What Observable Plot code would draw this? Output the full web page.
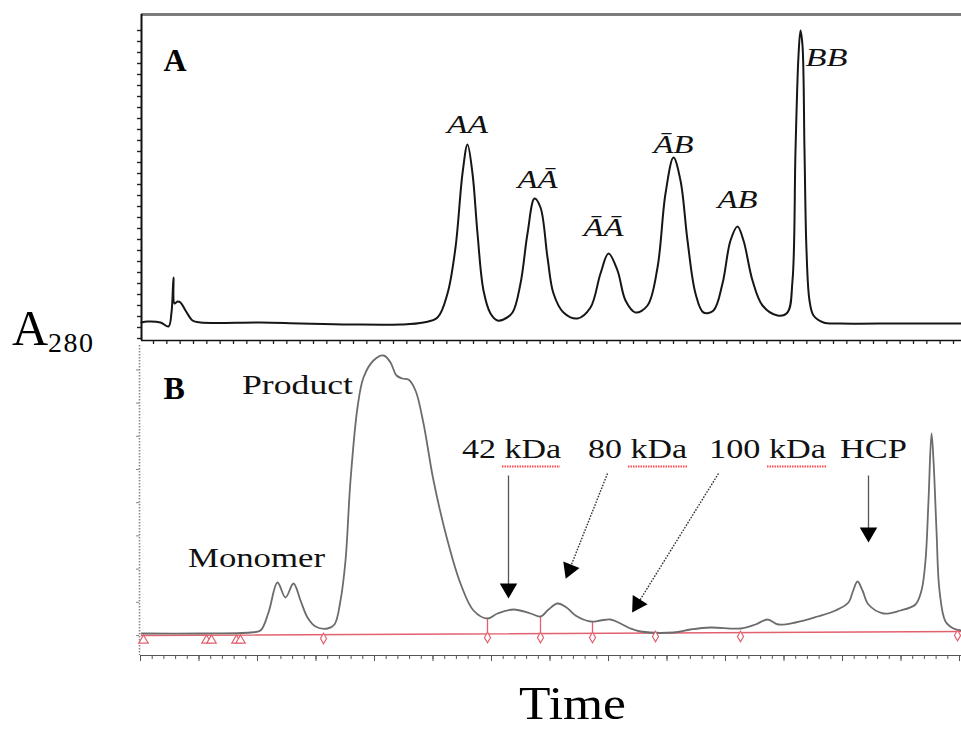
<!DOCTYPE html>
<html><head><meta charset="utf-8">
<script src="https://cdn.jsdelivr.net/npm/d3@7"></script>
<script src="https://cdn.jsdelivr.net/npm/@observablehq/plot@0.6"></script>
<style>
html,body{margin:0;padding:0;background:#fff;}
#fig{position:relative;width:961px;height:731px;overflow:hidden;font-family:"Liberation Serif",serif;color:#000;}
#panelA,#panelB{position:absolute;left:0;}
#panelA{top:0;}
#panelB{top:345px;}
#ylab{position:absolute;left:12px;top:303px;font-size:50px;line-height:1;white-space:nowrap;}
#ylab span{font-size:28px;vertical-align:-7px;letter-spacing:1.5px;}
#xlab{position:absolute;left:519px;top:681px;height:48px;font-size:46px;line-height:46px;transform:scaleX(1.12);transform-origin:left center;white-space:nowrap;}
</style></head><body>
<div id="fig">
  <div id="panelA"></div>
  <div id="panelB"></div>
  <div id="ylab">A<span>280</span></div>
  <div id="xlab">Time</div>
</div>
<script>
// ---------- Panel A trace (time, absorbance) ----------
const timeA = [0,0.6,1.9,2.7,3.0,3.2,3.3,3.6,3.9,4.4,5.1,5.9,11.9,15.9,20.9,25.9,28.2,29.6,30.6,31.4,32.1,32.6,33.1,33.6,34.2,34.9,35.6,36.2,37.1,37.9,38.6,39.3,39.9,40.6,41.2,42.2,43.6,44.9,45.9,46.7,47.6,48.4,49.4,50.6,51.6,52.4,53.2,53.9,54.6,55.4,56.2,57.2,58.1,58.9,59.6,60.2,61.1,62.1,63.6,64.6,65.1,65.4,65.7,65.9,66.1,66.3,66.5,66.8,67.2,68.2,69.9,75.9,82];
const absA  = [0,1,0,-4,10,45,19,21,20,12,2,0,0,-1,-2,-2,0,5,29,75,149,178,149,89,32,9,2,3,10,39,89,124,115,65,29,10,4,15,49,69,52,22,10,17,55,129,165,142,82,29,10,12,39,82,96,82,42,17,7,10,42,172,267,292,277,172,72,22,7,0,-1,-1,-1];

// Panel A peak labels
const peakLabels = ["AA","AĀ","ĀĀ","ĀB","AB"];
const peakLabelT = [32.6,39.6,46.2,53.2,59.6];
const peakLabelY = [190,135,87,170,115];
const bbLabel = ["BB"];
const bbLabelT = [66.4];
const bbLabelY = [257];

// ---------- Panel B trace ----------
const timeB = [0,5.9,10.9,11.9,12.7,13.6,14.4,15.2,15.9,16.6,17.4,18.6,19.3,19.9,20.4,20.9,21.6,22.2,23.2,24.2,24.9,25.5,26.1,26.7,27.4,28.2,29.2,30.6,31.9,33.2,34.6,35.6,37.2,38.9,39.9,40.7,41.6,42.5,43.4,44.9,45.9,46.9,47.9,48.9,49.9,53.2,54.9,56.9,59.9,61.4,62.6,63.7,65.4,67.6,69.4,70.7,71.1,71.6,72.1,72.7,74.2,75.9,77.4,78.0,78.4,78.7,79.0,79.2,79.5,79.8,80.4,81.2,82];
const absB  = [1,1,2,4,22,52,37,51,34,17,8,6,10,34,74,154,227,257,274,279,272,259,256,255,244,211,154,94,51,24,16,21,25,21,18,25,31,27,19,13,14,15,11,6,3,2,5,7,6,10,15,10,12,18,24,32,42,53,44,30,21,24,30,44,74,134,201,174,104,44,13,6,4];

// Integration baseline and markers (panel B)
const baselineT = [0, 82];
const baselineY = [-1, 3];
const dropT = [34.6, 39.9, 45.1];
const dropTop = [16, 18, 12];
const dropBase = [0.5, 1, 1.2];
const diamondT = [18.2, 34.6, 39.9, 45.1, 51.4, 59.9, 81.6];
const diamondY = [-4, -3, -3, -3, -2, -2, -1];
const triangleT = [0.2, 6.5, 7.0, 9.5, 9.9];
const triangleY = [-6, -6, -6, -6, -6];

// Panel B annotations
const bLabels = ["Product","Monomer","42 kDa","80 kDa","100 kDa","HCP"];
const bLabelT = [15.6, 11.5, 37.0, 49.6, 62.6, 73.2];
const bLabelY = [241, 68, 177, 177, 177, 177];
const squigT1 = [36.1, 48.7, 62.6];
const squigT2 = [41.9, 54.7, 68.6];
const squigY = [168, 168, 168];
// arrows: shaft start, head centre, head rotation, dotted?
const arrowT1 = [36.7, 46.6, 57.7, 72.7];
const arrowY1 = [159, 161, 161, 159];
const arrowT2 = [36.7, 42.8, 49.6, 72.7];
const arrowY2 = [46, 65, 30.5, 102];
const arrowRot = [180, 202, 212, 180];
const arrowDotted = [false, true, true, false];

// ---------- build tables ----------
const traceA = timeA.map((t, i) => ({t, a: absA[i]}));
const traceB = timeB.map((t, i) => ({t, a: absB[i]}));
const baseline = baselineT.map((t, i) => ({t, a: baselineY[i]}));
const drops = dropT.map((t, i) => ({t, top: dropTop[i], base: dropBase[i]}));
const diamonds = diamondT.map((t, i) => ({t, a: diamondY[i]}));
const triangles = triangleT.map((t, i) => ({t, a: triangleY[i]}));
const peaks = peakLabels.map((s, i) => ({s, t: peakLabelT[i], a: peakLabelY[i]}));
const bb = bbLabel.map((s, i) => ({s, t: bbLabelT[i], a: bbLabelY[i]}));
const bl = bLabels.map((s, i) => ({s, t: bLabelT[i], a: bLabelY[i]}));
const squig = squigT1.map((t1, i) => ({t1, t2: squigT2[i], a: squigY[i]}));
const arrows = arrowT1.map((t1, i) => ({t1, a1: arrowY1[i], t2: arrowT2[i], a2: arrowY2[i], rot: arrowRot[i], dotted: arrowDotted[i]}));

const xDom = [0, 82];
const yDomA = [-18, 308];
const yDomB = [-21, 289];
const red = "#e2616f";
const serif = "Liberation Serif";

const textWidths = {"Product":111,"Monomer":137,"42 kDa":99,"80 kDa":99,"100 kDa":117,"HCP":67,
  "AA":41,"AĀ":40,"ĀĀ":40,"ĀB":40,"AB":40,"BB":42};
function fitText(svg) {
  d3.select(svg).selectAll("text").each(function() {
    const w = textWidths[this.textContent];
    if (w) { this.setAttribute("textLength", w); this.setAttribute("lengthAdjust", "spacingAndGlyphs"); }
  });
  return svg;
}
const blank = () => "";

// ---------- Panel A ----------
const plotA = Plot.plot({
  width: 961, height: 350,
  marginLeft: 141, marginRight: 0, marginTop: 14, marginBottom: 10,
  x: {domain: xDom, axis: null, label: null},
  y: {domain: yDomA, axis: null, label: null},
  style: {background: "transparent", overflow: "visible"},
  marks: [
    Plot.axisY({ticks: d3.range(292, -19, -11), tickSize: 4, tickFormat: blank, stroke: "#222", strokeWidth: 1.4, label: null}),
    Plot.axisX({ticks: d3.range(1.2, 82, 4/3), tickSize: 4, tickFormat: blank, stroke: "#222", strokeWidth: 1.3, label: null}),
    Plot.ruleY([yDomA[1]], {stroke: "#7c7c7c", strokeWidth: 3}),
    Plot.ruleY([yDomA[0]], {stroke: "#111", strokeWidth: 1.5}),
    Plot.ruleX([xDom[0]], {stroke: "#111", strokeWidth: 2}),
    Plot.line(traceA, {x: "t", y: "a", stroke: "#161616", strokeWidth: 2, curve: "catmull-rom"}),
    Plot.text(["A"], {x: 2.2, y: 252, text: d => d, textAnchor: "start", lineAnchor: "bottom", fontFamily: serif, fontWeight: "bold", fontSize: 32, fill: "#000"}),
    Plot.text(peaks, {x: "t", y: "a", text: "s", textAnchor: "middle", lineAnchor: "bottom", fontFamily: serif, fontStyle: "italic", fontSize: 25, fill: "#111"}),
    Plot.text(bb, {x: "t", y: "a", text: "s", textAnchor: "start", lineAnchor: "bottom", fontFamily: serif, fontStyle: "italic", fontSize: 25, fill: "#111"})
  ]
});
document.getElementById("panelA").appendChild(fitText(plotA));

// ---------- Panel B ----------
const plotB = Plot.plot({
  width: 961, height: 320,
  marginLeft: 141, marginRight: 0, marginTop: 0, marginBottom: 10,
  x: {domain: xDom, axis: null, label: null},
  y: {domain: yDomB, axis: null, label: null},
  style: {background: "transparent", overflow: "visible"},
  marks: [
    Plot.axisY({ticks: d3.range(-1, 289, 33.2), tickSize: 3, tickFormat: blank, stroke: "#888", label: null, dx: -2}),
    Plot.axisX({ticks: d3.range(-0.1, 82, 1.17), tickSize: 4, tickFormat: blank, stroke: "#555", label: null}),
    Plot.axisX({ticks: d3.range(-0.1, 82, 5.85), tickSize: 6, tickFormat: blank, stroke: "#555", label: null}),
    Plot.ruleX([xDom[0]], {stroke: "#8a8a8a", strokeWidth: 1.6, strokeDasharray: "1.5,1.5", dx: -2}),
    Plot.ruleY([yDomB[0]], {stroke: "#555", strokeWidth: 1.2}),
    Plot.line(baseline, {x: "t", y: "a", stroke: red, strokeWidth: 1.6}),
    Plot.ruleX(drops, {x: "t", y1: "base", y2: "top", stroke: red, strokeWidth: 1.3}),
    Plot.line(traceB, {x: "t", y: "a", stroke: "#6c6c6c", strokeWidth: 1.8, curve: "catmull-rom"}),
    Plot.dot(diamonds, {x: "t", y: "a", symbol: "diamond", r: 3.2, stroke: red, fill: "white", strokeWidth: 1.2}),
    Plot.dot(triangles, {x: "t", y: "a", symbol: "triangle", r: 3.5, stroke: red, fill: "white", strokeWidth: 1.2}),
    Plot.link(arrows.filter(d => !d.dotted), {x1: "t1", y1: "a1", x2: "t2", y2: "a2", stroke: "#555", strokeWidth: 1.3}),
    Plot.link(arrows.filter(d => d.dotted), {x1: "t1", y1: "a1", x2: "t2", y2: "a2", stroke: "#333", strokeWidth: 1.4, strokeDasharray: "1.6,1.4"}),
    Plot.dot(arrows, {x: "t2", y: "a2", symbol: "triangle", r: 6.5, fill: "#000", stroke: "none", rotate: "rot"}),
    Plot.ruleY(squig, {y: "a", x1: "t1", x2: "t2", stroke: "#ff4a4a", strokeWidth: 2.2, strokeDasharray: "1.5,1"}),
    Plot.text(["B"], {x: 2.2, y: 236, text: d => d, textAnchor: "start", lineAnchor: "bottom", fontFamily: serif, fontWeight: "bold", fontSize: 32, fill: "#000"}),
    Plot.text(bl, {x: "t", y: "a", text: "s", textAnchor: "middle", lineAnchor: "bottom", fontFamily: serif, fontSize: 27, fill: "#111"})
  ]
});
document.getElementById("panelB").appendChild(fitText(plotB));
</script>
</body></html>
